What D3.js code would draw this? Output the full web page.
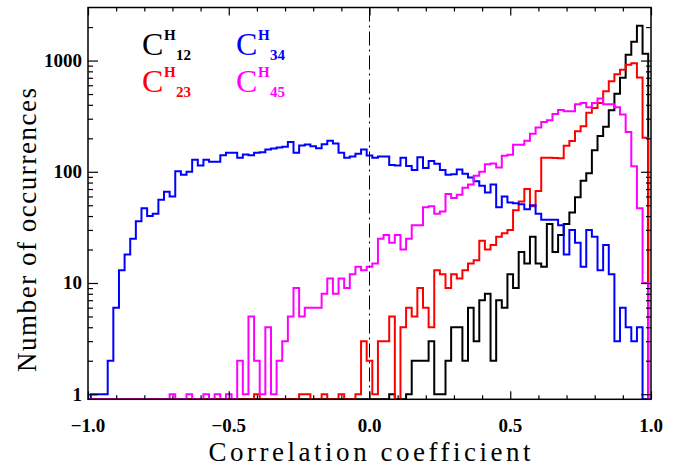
<!DOCTYPE html>
<html>
<head>
<meta charset="utf-8">
<script src="https://cdn.jsdelivr.net/npm/d3@7"></script>
<style>
  html, body { margin: 0; padding: 0; background: #fff; }
  svg { display: block; }
  text { font-family: "Liberation Serif", "DejaVu Serif", serif; }
</style>
</head>
<body>
<svg width="677" height="466"></svg>
<script>
// bin centres, -1.00 .. 1.00 in steps of 0.02
const binCenters = d3.range(-50, 51).map(i => i / 50)

// counts per bin (rows of ten bins)
const c12 = [
  0, 0, 0, 0, 0, 0, 0, 0, 0, 0,
  0, 0, 0, 0, 0, 0, 0, 0, 0, 0,
  0, 0, 0, 0, 0, 0, 0, 0, 0, 0,
  0, 0, 0, 0, 0, 0, 0, 0, 0, 0,
  0, 0, 0, 0, 0, 0, 0, 0, 0, 0,
  0, 0, 0, 0, 1, 0, 0, 1, 2, 2,
  2, 3, 1, 1, 2, 4, 4, 2, 6, 3,
  7, 8, 2, 7, 6, 12, 9, 19, 15, 26,
  15, 14, 34, 19, 27, 34, 43, 59, 83, 97,
  156, 210, 254, 357, 502, 700, 1128, 1480, 2057, 1150,
  0
]
const c23 = [
  0, 0, 0, 0, 0, 0, 0, 0, 0, 0,
  0, 0, 0, 0, 0, 0, 0, 0, 0, 0,
  0, 0, 0, 0, 0, 0, 0, 0, 0, 0,
  1, 0, 0, 0, 0, 0, 0, 0, 1, 1,
  0, 0, 1, 0, 0, 1, 0, 0, 1, 3,
  2, 1, 3, 3, 5, 0, 4, 6, 5, 9,
  6, 4, 13, 12, 9, 12, 11, 13, 15, 16,
  24, 20, 22, 26, 28, 30, 45, 54, 70, 49,
  67, 134, 134, 133, 132, 171, 189, 232, 257, 339,
  375, 416, 530, 650, 755, 828, 917, 948, 706, 202,
  0
]
const c34 = [
  0, 1, 1, 1, 2, 6, 13, 18, 25, 36,
  47, 40, 42, 56, 66, 60, 101, 94, 100, 128,
  114, 128, 123, 123, 141, 148, 148, 134, 143, 141,
  148, 150, 159, 162, 165, 168, 185, 148, 172, 176,
  170, 163, 177, 190, 180, 148, 134, 137, 145, 159,
  140, 134, 137, 137, 115, 114, 134, 113, 104, 135,
  108, 125, 118, 104, 94, 95, 105, 96, 89, 82,
  75, 65, 77, 48, 60, 53, 52, 51, 46, 50,
  42, 37, 37, 37, 33, 18, 30, 23, 14, 30,
  26, 13, 22, 12, 3, 6, 4, 3, 4, 0,
  0
]
const c45 = [
  0, 0, 0, 0, 0, 0, 0, 0, 0, 0,
  0, 0, 0, 0, 0, 1, 0, 0, 1, 0,
  0, 1, 0, 1, 0, 1, 0, 2, 1, 5,
  2, 1, 4, 1, 2, 3, 5, 9, 5, 6,
  6, 6, 8, 11, 8, 11, 9, 12, 14, 13,
  14, 15, 25, 27, 23, 27, 20, 25, 33, 33,
  48, 49, 42, 44, 63, 58, 62, 72, 77, 92,
  100, 117, 119, 109, 139, 142, 175, 175, 190, 220,
  250, 280, 290, 330, 360, 350, 350, 405, 415, 380,
  415, 455, 405, 405, 380, 327, 228, 112, 47, 10,
  0
]

const seriesNames = ['12', '23', '34', '45']
const seriesColors = ['#000000', '#ff0000', '#0000ff', '#ff00ff']
const seriesData = [c12, c23, c34, c45]

const xTicks = [-1, -0.5, 0, 0.5, 1]
const xTickLabels = ['\u22121.0', '\u22120.5', '0.0', '0.5', '1.0']
const xMinor = [-0.9, -0.8, -0.7, -0.6, -0.4, -0.3, -0.2, -0.1,
  0.1, 0.2, 0.3, 0.4, 0.6, 0.7, 0.8, 0.9]
const yTicks = [1, 10, 100, 1000]
const yTickLabels = ['1', '10', '100', '1000']
const yMinor = [2, 3, 4, 5, 6, 7, 8, 9, 20, 30, 40, 50, 60, 70, 80, 90,
  200, 300, 400, 500, 600, 700, 800, 900, 2000]

const svg = d3.select('svg')
const plotL = 88, plotR = 651, plotT = 7.5, plotB = 399.3

const x = d3.scaleLinear().domain([-1, 1]).range([plotL, plotR])
const y = d3.scaleLog().domain([0.9, 3000]).range([plotB, plotT])

svg.append('clipPath').attr('id', 'plot')
  .append('rect')
    .attr('x', plotL).attr('y', plotT)
    .attr('width', plotR - plotL).attr('height', plotB - plotT)

// histograms drawn like IDL psym=10
const step = d3.line()
    .x((d, i) => x(binCenters[i]))
    .y(d => y(Math.max(d, 0.9)))
    .curve(d3.curveStep)

svg.append('g')
    .attr('clip-path', 'url(#plot)')
    .attr('fill', 'none')
    .attr('stroke-width', 2)
    .attr('stroke-linejoin', 'miter')
  .selectAll('path')
  .data(seriesData)
  .enter().append('path')
    .attr('stroke', (d, i) => seriesColors[i])
    .attr('d', d => step(d))

// dash-dot line at zero
svg.append('line')
    .attr('x1', x(0)).attr('x2', x(0))
    .attr('y1', plotT).attr('y2', plotB)
    .attr('stroke', '#000')
    .attr('stroke-width', 1)
    .attr('stroke-dasharray', '14,4,2,4')

// axes, ticks pointing inward
function tickAxis(axis, transform) {
  const g = svg.append('g').attr('transform', transform).call(axis)
  g.select('.domain').remove()
  g.selectAll('.tick line').attr('stroke', '#000').attr('stroke-width', 1.2)
  g.selectAll('.tick text').remove()
  return g
}
tickAxis(d3.axisBottom(x).tickValues(xTicks).tickSize(-8), `translate(0,${plotB})`)
tickAxis(d3.axisBottom(x).tickValues(xMinor).tickSize(-4), `translate(0,${plotB})`)
tickAxis(d3.axisTop(x).tickValues(xTicks).tickSize(-8), `translate(0,${plotT})`)
tickAxis(d3.axisTop(x).tickValues(xMinor).tickSize(-4), `translate(0,${plotT})`)
tickAxis(d3.axisLeft(y).tickValues(yTicks).tickSize(-10), `translate(${plotL},0)`)
tickAxis(d3.axisLeft(y).tickValues(yMinor).tickSize(-5), `translate(${plotL},0)`)
tickAxis(d3.axisRight(y).tickValues(yTicks).tickSize(-10), `translate(${plotR},0)`)
tickAxis(d3.axisRight(y).tickValues(yMinor).tickSize(-5), `translate(${plotR},0)`)

svg.append('rect')
    .attr('x', plotL).attr('y', plotT)
    .attr('width', plotR - plotL).attr('height', plotB - plotT)
    .attr('fill', 'none')
    .attr('stroke', '#000')
    .attr('stroke-width', 1.5)

// tick labels
svg.append('g')
    .attr('font-size', 19)
    .attr('font-weight', 'bold')
    .attr('text-anchor', 'middle')
  .selectAll('text')
  .data(xTicks)
  .enter().append('text')
    .attr('x', d => x(d))
    .attr('y', 432)
    .text((d, i) => xTickLabels[i])

svg.append('g')
    .attr('font-size', 19)
    .attr('font-weight', 'bold')
    .attr('text-anchor', 'end')
  .selectAll('text')
  .data(yTicks)
  .enter().append('text')
    .attr('x', 82)
    .attr('y', d => y(d) + 6.5)
    .text((d, i) => yTickLabels[i])

// axis titles
svg.append('text')
    .attr('x', (plotL + plotR) / 2)
    .attr('y', 461)
    .attr('text-anchor', 'middle')
    .attr('font-size', 27)
    .attr('textLength', 322)
    .attr('lengthAdjust', 'spacing')
    .text('Correlation coefficient')

svg.append('text')
    .attr('transform', 'translate(36,230) rotate(-90)')
    .attr('text-anchor', 'middle')
    .attr('font-size', 27)
    .attr('textLength', 284)
    .attr('lengthAdjust', 'spacing')
    .text('Number of occurrences')

// legend: C with superscript H and subscript pair
const legendX = [142, 236, 142, 236]
const legendY = [55, 55, 92, 92]
const legendOrder = [0, 2, 1, 3]
legendOrder.forEach((s, k) => {
  const g = svg.append('g').attr('fill', seriesColors[s])
  g.append('text')
      .attr('x', legendX[k]).attr('y', legendY[k])
      .attr('font-size', 32)
      .text('C')
  g.append('text')
      .attr('x', legendX[k] + 22).attr('y', legendY[k] - 15)
      .attr('font-size', 15)
      .attr('font-weight', 'bold')
      .text('H')
  g.append('text')
      .attr('x', legendX[k] + 34).attr('y', legendY[k] + 5)
      .attr('font-size', 15)
      .attr('font-weight', 'bold')
      .text(seriesNames[s])
})
</script>
</body>
</html>
